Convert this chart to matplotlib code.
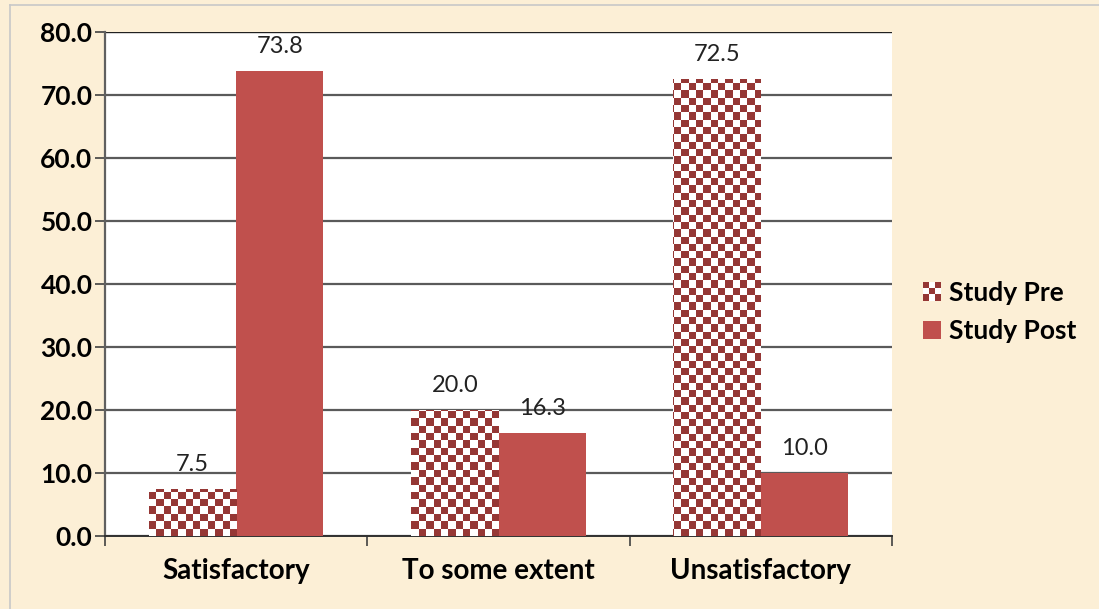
import numpy as np
import matplotlib.pyplot as plt
from matplotlib.patches import Patch, Rectangle
from matplotlib.colors import ListedColormap
from matplotlib.legend_handler import HandlerBase

categories = ["Satisfactory", "To some extent", "Unsatisfactory"]
study_pre = [7.5, 20.0, 72.5]
study_post = [73.8, 16.3, 10.0]
series_names = ["Study Pre", "Study Post"]
yticks = [0, 10, 20, 30, 40, 50, 60, 70, 80]

bg = "#fcefd6"
dark_red = "#953735"
red = "#c0504d"
plt.rcParams["font.family"] = ["Lato", "DejaVu Sans"]


class CheckerHandler(HandlerBase):
    # draws a small 3x3 checkerboard as the legend key
    def create_artists(self, legend, orig_handle, xdescent, ydescent, width, height, fontsize, trans):
        s = min(width, height)
        c = s / 3
        arts = [Rectangle((-xdescent, -ydescent), s, s, facecolor="white", edgecolor="none", transform=trans)]
        for i in range(3):
            for j in range(3):
                if (i + j) % 2 == 0:
                    arts.append(Rectangle((-xdescent + j * c, -ydescent + i * c), c, c,
                                          facecolor=dark_red, edgecolor="none", transform=trans))
        return arts


fig = plt.figure(figsize=(10.99, 6.09), dpi=100, facecolor=bg)
ax = fig.add_axes([0.0955, 0.1199, 0.7161, 0.8276])
ax.set_facecolor("white")

x = np.arange(len(categories))
w = 0.333
pre_bars = ax.bar(x - w / 2, study_pre, w, color="white", zorder=3)
post_bars = ax.bar(x + w / 2, study_post, w, color=red, zorder=3)

# checkerboard fill for the pre bars (cells about 7 px), clipped to each bar
cell_px = 7.3
dx = cell_px / 787 * 3
dy = cell_px / 504 * 80
nx, ny = int(3 / dx) + 2, int(80 / dy) + 2
checker = (np.add.outer(np.arange(ny), np.arange(nx)) % 2).astype(float)
for b in pre_bars:
    im = ax.imshow(checker, cmap=ListedColormap(["white", dark_red]),
                   extent=(-0.5, -0.5 + nx * dx, 0, ny * dy), origin="lower",
                   interpolation="nearest", zorder=4, aspect="auto")
    im.set_clip_path(b)

for bars, vals in [(pre_bars, study_pre), (post_bars, study_post)]:
    for b, v in zip(bars, vals):
        ax.annotate(f"{v:.1f}", (b.get_x() + b.get_width() / 2, v), xytext=(0, 10),
                    textcoords="offset points", ha="center", va="bottom",
                    fontsize=17, color="#222222", zorder=5)

ax.set_xlim(-0.5, 2.5)
ax.set_ylim(0, 80)
ax.set_yticks(yticks)
ax.set_yticklabels([f"{t:.1f}" for t in yticks], fontsize=19, fontweight="bold")
ax.set_xticks([-0.5, 0.5, 1.5, 2.5])
ax.set_xticklabels([])
ax.set_xticks(x, minor=True)
ax.set_xticklabels(categories, minor=True, fontsize=20, fontweight="bold")
ax.tick_params(axis="x", which="minor", length=0, pad=16)
ax.tick_params(axis="x", which="major", length=7, width=1.2, color="#404040", direction="out")
ax.tick_params(axis="y", length=7, width=1.2, color="#404040", pad=2)
ax.grid(axis="y", color="#5a5a5a", linewidth=1.6, zorder=1)
ax.set_axisbelow(True)
for s in ["top", "right"]:
    ax.spines[s].set_visible(False)
ax.spines["left"].set_color("#606060")
ax.spines["left"].set_linewidth(1.6)
ax.spines["bottom"].set_color("#303030")
ax.spines["bottom"].set_linewidth(1.4)
ax.axhline(80, color="#202020", linewidth=1.6, zorder=2)

pre_key = Patch(facecolor="white", edgecolor="none", label=series_names[0])
post_key = Patch(facecolor=red, edgecolor="none", label=series_names[1])
fig.legend(handles=[pre_key, post_key], loc="center left", bbox_to_anchor=(0.818, 0.488),
           frameon=False, prop={"size": 19, "weight": "bold"},
           handlelength=0.7, handleheight=0.7, handletextpad=0.3, labelspacing=0.55,
           handler_map={pre_key: CheckerHandler()})

fig.add_artist(plt.Line2D([0.009, 0.009], [0, 0.992], color="#c8c8c8", linewidth=1.2))
fig.add_artist(plt.Line2D([0.009, 1], [0.992, 0.992], color="#c8c8c8", linewidth=1.2))

fig.savefig("out.png", dpi=100, facecolor=bg)
